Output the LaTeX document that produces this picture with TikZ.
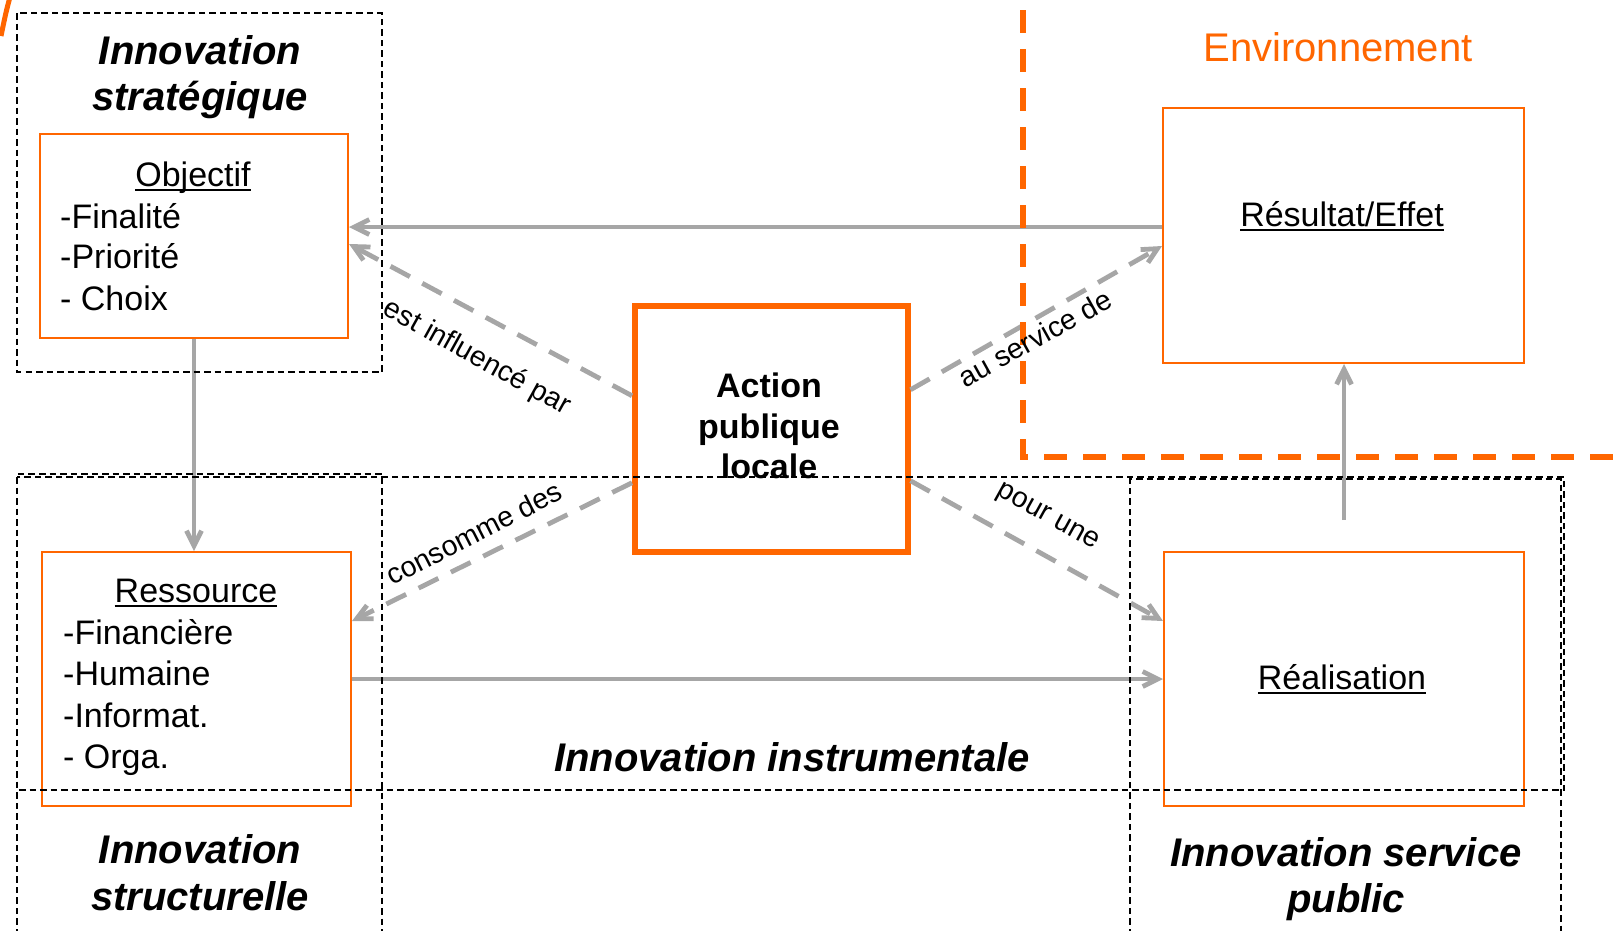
\documentclass[tikz,border=0pt]{standalone}
\usepackage{fontspec}
\setmainfont{Liberation Sans}
\usetikzlibrary{arrows.meta}
\definecolor{orng}{HTML}{FF6600}
\definecolor{gry}{HTML}{A6A6A6}
\newcommand\myul[1]{\leavevmode\setbox0\hbox{#1}\rlap{\rule[-4.5pt]{\wd0}{2pt}}\box0}
\begin{document}
\begin{tikzpicture}[x=1pt,y=-1pt,
  obox/.style={draw=orng, line width=2pt, inner sep=0pt, anchor=north west},
  abox/.style={draw=orng, line width=5.5pt, inner sep=0pt, anchor=north west},
  region/.style={draw=black, line width=1.6pt, dash pattern=on 6.5pt off 4pt},
  envline/.style={draw=orng, line width=6pt, dash pattern=on 23pt off 16pt},
  conn/.style={draw=gry, line width=4.8pt, -{Straight Barb[length=15pt,width=15pt]}},
  dconn/.style={conn, dash pattern=on 22pt off 14pt},
  ttl/.style={font=\fontsize{40}{48}\selectfont\bfseries\itshape, anchor=base, inner sep=0pt},
  txt/.style={font=\fontsize{34}{41}\selectfont, anchor=base, inner sep=0pt},
  btxt/.style={font=\fontsize{34}{41}\selectfont\bfseries, anchor=base, inner sep=0pt},
  itm/.style={txt, anchor=base west},
  lbl/.style={font=\fontsize{28.5}{34}\selectfont, inner sep=0pt},
]
\useasboundingbox (0,0) rectangle (1618,930);

% boxes
\node[obox, minimum width=308pt, minimum height=204pt] (obj) at (39,133) {};
\node[abox, minimum width=273pt, minimum height=246pt] (act) at (632,303) {};
\node[obox, minimum width=361pt, minimum height=255pt] (res) at (1162,107) {};
\node[obox, minimum width=309pt, minimum height=254pt] (ress) at (41,551) {};
\node[obox, minimum width=360pt, minimum height=254pt] (real) at (1163,551) {};

% solid connectors
\draw[conn] ([yshift=8.5pt]res.west) -- ([yshift=8.5pt]res.west -| obj.east);
\draw[conn] (obj.south) -- (obj.south |- ress.north);
\draw[conn] (ress.east) -- (real.west);
\draw[conn, shorten <=31pt] (real.north) -- (real.north |- res.south);

% dashed connectors
\draw[dconn] ([yshift=33pt]act.west) -- ([yshift=-8pt]obj.east);
\draw[dconn] ([yshift=-54pt]act.west) -- ([yshift=58pt]ress.east);
\draw[dconn] ([yshift=39pt]act.east) -- ([yshift=-10.5pt]res.west);
\draw[dconn] ([yshift=-52pt]act.east) -- ([yshift=58pt]real.west);

% environment border
\draw[envline] (1023,10) -- (1023,457) -- (1618,457);
\draw[orng, line width=5pt] (10,-3) .. controls (6,12) .. (1,36);

% regions
\draw[region] (17,13) rectangle (382,372);
\draw[region] (17,477) rectangle (1564,790);
\draw[region] (17,935) -- (17,474) -- (382,474) -- (382,935);
\draw[region] (1130,935) -- (1130,479) -- (1561,479) -- (1561,935);

% labels
\node[lbl, rotate=-29] (l1) at (477,358) {est influencé par};
\node[lbl, rotate=27] (l2) at (474,533) {consomme des};
\node[lbl, rotate=29] (l3) at (1035,338) {au service de};
\node[lbl, rotate=-29] (l4) at (1047,518) {pour une};

% titles
\node[ttl] (t1a) at (200,64) {Innovation};
\node[ttl] (t1b) at (200,110) {stratégique};
\node[ttl] (t2a) at (200,863) {Innovation};
\node[ttl] (t2b) at (200,910) {structurelle};
\node[ttl] (t3a) at (1346,866) {Innovation service};
\node[ttl] (t3b) at (1346,912) {public};
\node[ttl] (t4) at (792,771) {Innovation instrumentale};
\node[txt, text=orng, font=\fontsize{40}{48}\selectfont] (env) at (1338,61) {Environnement};

% action text
\node[btxt] (a1) at (769,397) {Action};
\node[btxt] (a2) at (769,438) {publique};
\node[btxt] (a3) at (769,478) {locale};

% objectif
\node[txt] (objh) at (193,186) {\myul{Objectif}};
\node[itm] (o1) at (60,228) {-Finalité};
\node[itm] (o2) at (60,268) {-Priorité};
\node[itm] (o3) at (60,310) {- Choix};

% ressource
\node[txt] (resh) at (196,602) {\myul{Ressource}};
\node[itm] (r1) at (63,644) {-Financière};
\node[itm] (r2) at (63,685) {-Humaine};
\node[itm] (r3) at (63,727) {-Informat.};
\node[itm] (r4) at (63,768) {- Orga.};

% resultat / realisation
\node[txt] (resl) at (1342,226) {\myul{Résultat/Effet}};
\node[txt] (reall) at (1342,689) {\myul{Réalisation}};
\end{tikzpicture}
\end{document}
